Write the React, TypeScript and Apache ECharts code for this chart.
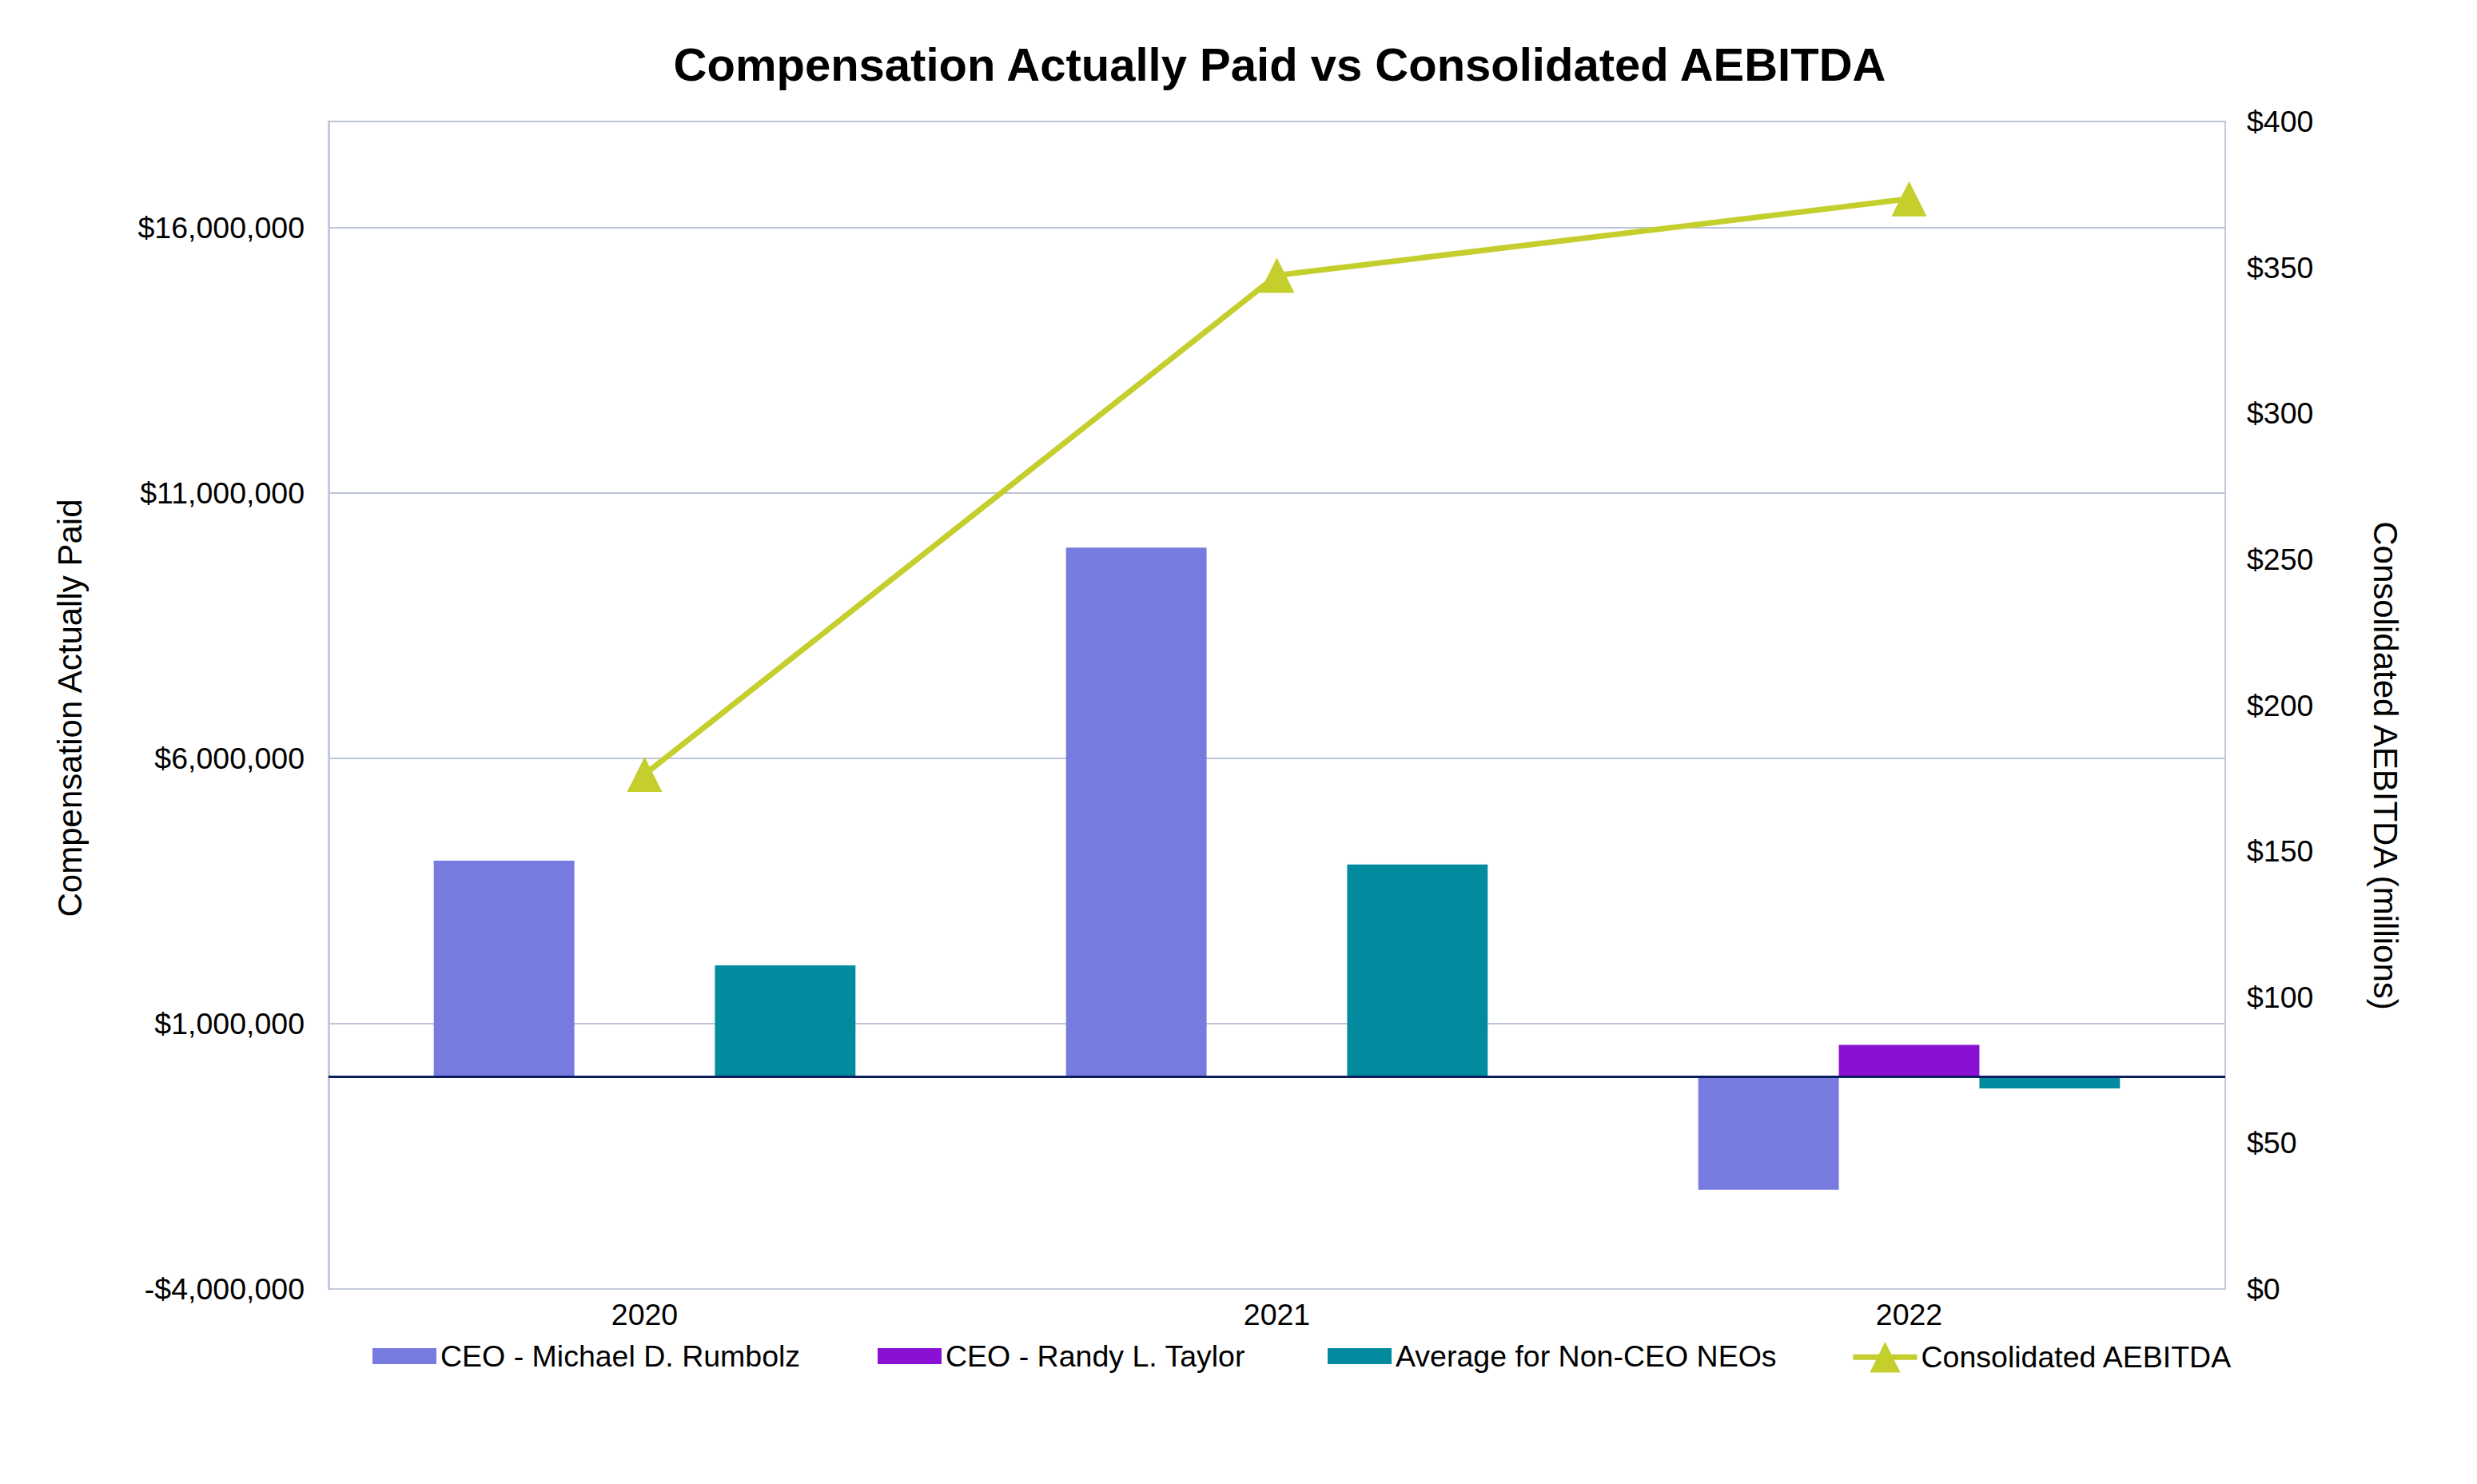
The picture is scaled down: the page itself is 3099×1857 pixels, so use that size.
import React, { useEffect, useRef } from "react";
import * as echarts from "echarts";

const years = ["2020", "2021", "2022"];
const rumbolz = [4070000, 9970000, -2130000];
const taylor = [null, null, 600000];
const nonCeo = [2100000, 4000000, -220000];
const aebitda = [176.3, 347.3, 373.5];

const leftTicksMin = -4000000;
const leftTicksMax = 18000000;
const leftInterval = 5000000;
const rightMin = 0;
const rightMax = 400;
const rightInterval = 50;

const seriesNames = [
  "CEO - Michael D. Rumbolz",
  "CEO - Randy L. Taylor",
  "Average for Non-CEO NEOs",
  "Consolidated AEBITDA",
];

const FONT = "Liberation Sans, Arial, Helvetica, sans-serif";
const FS = 37.5;

function fmtMoney(v: number) {
  const s = Math.abs(v).toLocaleString("en-US");
  return (v < 0 ? "-$" : "$") + s;
}

export default function App() {
  const ref = useRef<HTMLDivElement>(null);
  useEffect(() => {
    if (!ref.current) return;
    const chart = echarts.init(ref.current, undefined, { renderer: "svg" });
    const legendBase = {
      itemWidth: 80,
      itemHeight: 20,
      icon: "rect",
      textStyle: { fontFamily: FONT, fontSize: FS, color: "#000" },
    };
    chart.setOption({
      animation: false,
      backgroundColor: "#ffffff",
      textStyle: { fontFamily: FONT },
      grid: {
        left: 411,
        right: 315,
        top: 152,
        bottom: 244,
        show: true,
        borderColor: "#C3CADC",
        borderWidth: 2,
        containLabel: false,
      },
      legend: [
        { ...legendBase, left: 461, top: 1673, data: [seriesNames[0]] },
        { ...legendBase, left: 1093, top: 1673, data: [seriesNames[1]] },
        { ...legendBase, left: 1656, top: 1673, data: [seriesNames[2]] },
        {
          left: 2310,
          top: 1674,
          itemWidth: 80,
          itemHeight: 48,
          textStyle: { fontFamily: FONT, fontSize: FS, color: "#000" },
          data: [{ name: seriesNames[3], lineStyle: { width: 7 } }],
        },
      ],
      xAxis: {
        type: "category",
        data: years,
        axisLine: { onZero: false, lineStyle: { color: "#C3CADC", width: 2 } },
        axisTick: { show: false },
        axisLabel: { fontFamily: FONT, fontSize: FS, color: "#000", margin: 13 },
      },
      yAxis: [
        {
          type: "value",
          min: leftTicksMin,
          max: leftTicksMax,
          interval: leftInterval,
          axisLine: { show: true, lineStyle: { color: "#C3CADC", width: 3 } },
          axisTick: { show: false },
          splitLine: { show: true, lineStyle: { color: "#BCC4D8", width: 2 } },
          axisLabel: {
            fontFamily: FONT,
            fontSize: FS,
            color: "#000",
            margin: 30,
            formatter: (v: number) => (v >= leftTicksMax ? "" : fmtMoney(v)),
          },
        },
        {
          type: "value",
          min: rightMin,
          max: rightMax,
          interval: rightInterval,
          position: "right",
          axisLine: { show: false },
          axisTick: { show: false },
          splitLine: { show: false },
          axisLabel: {
            fontFamily: FONT,
            fontSize: FS,
            color: "#000",
            margin: 27,
            formatter: (v: number) => "$" + v,
          },
        },
      ],
      graphic: [
        {
          type: "text",
          x: 1601,
          y: 80,
          style: {
            text: "Compensation Actually Paid vs Consolidated AEBITDA",
            x: 0,
            y: 0,
            align: "center",
            verticalAlign: "middle",
            fontFamily: FONT,
            fontSize: 58,
            fontWeight: "bold",
            fill: "#000",
          },
        },
        {
          type: "text",
          x: 87,
          y: 886,
          rotation: Math.PI / 2,
          style: {
            text: "Compensation Actually Paid",
            x: 0,
            y: 0,
            align: "center",
            verticalAlign: "middle",
            fontFamily: FONT,
            fontSize: 42,
            fill: "#000",
          },
        },
        {
          type: "text",
          x: 2984,
          y: 958,
          rotation: -Math.PI / 2,
          style: {
            text: "Consolidated AEBITDA (millions)",
            x: 0,
            y: 0,
            align: "center",
            verticalAlign: "middle",
            fontFamily: FONT,
            fontSize: 42,
            fill: "#000",
          },
        },
      ],
      series: [
        {
          name: seriesNames[0],
          type: "bar",
          data: rumbolz,
          barGap: "0%",
          barCategoryGap: "33.3%",
          itemStyle: { color: "#777BDF" },
          markLine: {
            silent: true,
            symbol: "none",
            label: { show: false },
            lineStyle: { color: "#0B1F5E", width: 3, type: "solid" },
            data: [{ yAxis: 0 }],
            z: 10,
          },
        },
        {
          name: seriesNames[1],
          type: "bar",
          data: taylor,
          barGap: "0%",
          barCategoryGap: "33.3%",
          itemStyle: { color: "#8A10D4" },
        },
        {
          name: seriesNames[2],
          type: "bar",
          data: nonCeo,
          barGap: "0%",
          barCategoryGap: "33.3%",
          itemStyle: { color: "#028B9E" },
        },
        {
          name: seriesNames[3],
          type: "line",
          yAxisIndex: 1,
          data: aebitda,
          symbol: "triangle",
          symbolSize: 44,
          lineStyle: { color: "#C4CE2C", width: 7 },
          itemStyle: { color: "#C4CE2C" },
          z: 20,
        },
      ],
    });
    return () => chart.dispose();
  }, []);
  return (
    <div
      ref={ref}
      style={{ position: "fixed", left: 0, top: 0, width: "3099px", height: "1857px" }}
    />
  );
}
